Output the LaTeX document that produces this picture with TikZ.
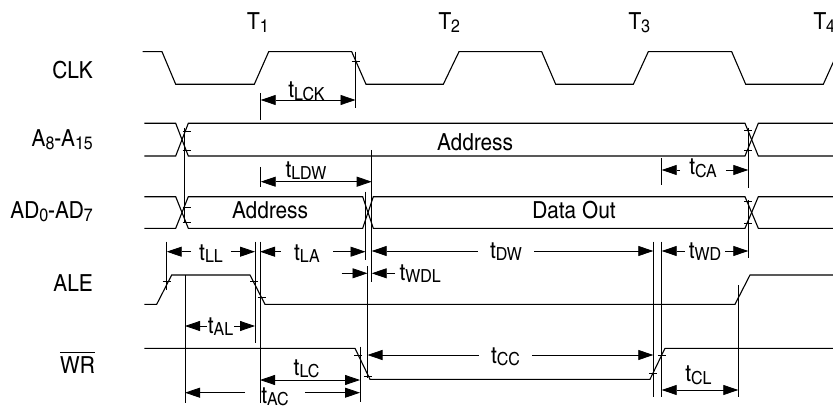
\documentclass[tikz,border=0pt]{standalone}
\usepackage{fontspec}
\setmainfont{TeX Gyre Heros Cn}[FakeStretch=1.08]
\usetikzlibrary{arrows.meta,calc}
\newcommand{\tsb}[2]{#1\raisebox{-2.5pt}{\fontsize{18}{18}\selectfont #2}}
\begin{document}
\begin{tikzpicture}[x=1pt,y=-1pt,
 sig/.style={line width=1.1pt},
 guide/.style={line width=0.8pt},
 tk/.style={line width=0.8pt},
 arr/.style={line width=0.8pt,-{Triangle[length=15pt,width=10pt]}},
 darr/.style={line width=0.8pt,{Triangle[length=15pt,width=10pt]}-{Triangle[length=15pt,width=10pt]}},
 sl/.style={font=\fontsize{23.5}{23.5}\selectfont, inner sep=0pt, anchor=base east},
 tl/.style={font=\fontsize{23.5}{23.5}\selectfont, inner ysep=0pt, inner xsep=8pt, anchor=base},
]
\path[use as bounding box, fill=white] (0,0) rectangle (833,409);

% ---------- signal names ----------
\node[sl] (clk) at (93,78.3) {CLK};
\node[sl] (a8) at (93,146.7) {\tsb{A}{8}-\tsb{A}{15}};
\node[sl] (ad) at (93,218.5) {\tsb{AD}{0}-\tsb{AD}{7}};
\node[sl] (ale) at (93,291.7) {ALE};
\node[sl] (wr) at (95,373) {WR};
\draw[line width=0.9pt] ([yshift=3.5pt]wr.north west) -- ([yshift=3.5pt]wr.north east);

% ---------- T labels ----------
\node[sl, anchor=base west] (T1) at (247,30) {\tsb{T}{1}};
\node[sl, anchor=base west] (T2) at (438.3,30) {\tsb{T}{2}};
\node[sl, anchor=base west] (T3) at (628.3,30) {\tsb{T}{3}};
\node[sl, anchor=base west] (T4) at (813.3,30) {\tsb{T}{4}};

% ---------- waveforms ----------
\draw[sig] (142.7,51.7) -- (162,51.7) -- (175.7,84.3) -- (254.3,84.3) -- (268.7,51.7) -- (351.7,51.7) -- (366,84.3) -- (443.3,84.3) -- (459,51.7) -- (541.7,51.7) -- (555.7,84.3) -- (633.3,84.3) -- (648.3,51.7) -- (731.7,51.7) -- (745.7,84.3) -- (823.3,84.3) -- (838,51.7);

\draw[sig] (144.3,123.3) -- (175.7,123.3) -- (188.3,156) -- (745,156) -- (758.3,123.3) -- (840,123.3);
\draw[sig] (144.3,156) -- (175.7,156) -- (188.3,123.3) -- (745,123.3) -- (758.3,156) -- (840,156);
\node[sl, anchor=base] (addrA) at (475,150) {Address};

\draw[sig] (144.3,196.7) -- (175.7,196.7) -- (188.3,228.3) -- (362.7,228.3) -- (373.3,196.7) -- (745,196.7) -- (758.3,228.3) -- (840,228.3);
\draw[sig] (144.3,228.3) -- (175.7,228.3) -- (188.3,196.7) -- (362.7,196.7) -- (373.3,228.3) -- (745,228.3) -- (758.3,196.7) -- (840,196.7);
\node[sl, anchor=base] (addrD) at (270,218.3) {Address};
\node[sl, anchor=base] (dout) at (574,218.3) {Data Out};

\draw[sig] (144.3,304.3) -- (156.7,304.3) -- (171.7,275) -- (250,275) -- (265,304.3) -- (735,304.3) -- (750,275) -- (840,275);
\draw[sig] (144.3,348.3) -- (355,348.3) -- (370,379.3) -- (650,379.3) -- (665,348.3) -- (840,348.3);

% ---------- ticks ----------
\foreach \x/\y in {355.5/61, 186.5/131.7, 186.5/150, 186.5/207.3, 186.5/222.7,
  748/130.7, 748/150.7, 748/201.7, 748/223, 166.7/281, 254/281, 261.5/297.3,
  358.2/355, 368.4/376, 652.9/373.3, 661.8/355}
  \draw[tk] (\x-4,\y) -- (\x+4,\y);

% ---------- guide lines ----------
\draw[guide] (260.7,93) -- (260.7,120);
\draw[guide] (355.5,51.7) -- (355.5,108);
\draw[guide] (260.7,167) -- (260.7,187);
\draw[guide] (371.7,150) -- (371.7,282);
\draw[guide] (184,128) -- (184,222);
\draw[guide] (661.7,158) -- (661.7,185);
\draw[guide] (748.3,128) -- (748.3,188);
\draw[guide] (748.3,200) -- (748.3,258);
\draw[guide] (166.7,241.7) -- (166.7,290);
\draw[guide] (255,241.7) -- (255,343.3);
\draw[guide] (260,241.7) -- (260,403);
\draw[guide] (365.5,191.7) -- (365.5,260);
\draw[guide] (367.5,266) -- (367.5,378);
\draw[guide] (185,275) -- (185,403);
\draw[guide] (360,346.7) -- (360,401.7);
\draw[guide] (653.3,241.7) -- (653.3,396.7);
\draw[guide] (661.7,241.7) -- (661.7,396.7);
\draw[guide] (738.3,285) -- (738.3,396.7);

% ---------- dimensions ----------
% tLCK
\coordinate (LCKa) at (260.7,100); \coordinate (LCKb) at (355.5,100);
\node[tl] (tLCK) at (306.5,98) {\tsb{t}{LCK}};
\draw[darr] (LCKa) -- (LCKb);
% tLDW
\coordinate (LDWa) at (260.7,181.7); \coordinate (LDWb) at (371.7,181.7);
\node[tl] (tLDW) at (306,177.3) {\tsb{t}{LDW}};
\draw[darr] (LDWa) -- (LDWb);
% tCA
\coordinate (CAa) at (661.7,170); \coordinate (CAb) at (748.3,170);
\node[tl, inner xsep=9pt] (tCA) at (703,175) {\tsb{t}{CA}};
\draw[arr] (tCA.west |- CAa) -- (CAa);
\draw[arr] (tCA.east |- CAb) -- (CAb);
% tLL
\coordinate (LLa) at (166.7,251.7); \coordinate (LLb) at (255,251.7);
\node[tl, inner xsep=8pt] (tLL) at (211,260) {\tsb{t}{LL}};
\draw[arr] (tLL.west |- LLa) -- (LLa);
\draw[arr] (tLL.east |- LLb) -- (LLb);
% tLA
\coordinate (LAa) at (260,251.7); \coordinate (LAb) at (365.5,251.7);
\node[tl, inner xsep=13pt] (tLA) at (307,260) {\tsb{t}{LA}};
\draw[arr] (tLA.west |- LAa) -- (LAa);
\draw[arr] (tLA.east |- LAb) -- (LAb);
% tDW
\coordinate (DWa) at (371.7,251); \coordinate (DWb) at (653.3,251);
\node[tl, inner xsep=12pt] (tDW) at (506,258) {\tsb{t}{DW}};
\draw[arr] (tDW.west |- DWa) -- (DWa);
\draw[arr] (tDW.east |- DWb) -- (DWb);
% tWD
\coordinate (WDa) at (661.7,251); \coordinate (WDb) at (748.3,251);
\node[tl, inner xsep=4pt] (tWD) at (705,258) {\tsb{t}{WD}};
\draw[arr] (tWD.west |- WDa) -- (WDa);
\draw[arr] (tWD.east |- WDb) -- (WDb);
% tWDL
\coordinate (WDLa) at (367.5,273.3); \coordinate (WDLb) at (371.7,273.3);
\coordinate (WDLs) at (341.7,273.3); \coordinate (WDLe) at (395,273.3);
\node[tl, inner xsep=0pt, anchor=base west] (tWDL) at (399.3,280) {\tsb{t}{WDL}};
\draw[arr] (WDLs) -- (WDLa);
\draw[arr] (WDLe) -- (WDLb);
% tAL
\coordinate (ALa) at (185,326); \coordinate (ALb) at (255,326);
\node[tl, inner xsep=1pt] (tAL) at (220.5,333) {\tsb{t}{AL}};
\draw[arr] (tAL.west |- ALa) -- (ALa);
\draw[arr] (tAL.east |- ALb) -- (ALb);
% tCC
\coordinate (CCa) at (367.5,355); \coordinate (CCb) at (653.3,355);
\node[tl, inner xsep=12pt] (tCC) at (505.5,363) {\tsb{t}{CC}};
\draw[arr] (tCC.west |- CCa) -- (CCa);
\draw[arr] (tCC.east |- CCb) -- (CCb);
% tLC
\coordinate (LCa) at (260,380); \coordinate (LCb) at (360,380);
\node[tl] (tLC) at (306.5,375) {\tsb{t}{LC}};
\draw[darr] (LCa) -- (LCb);
% tAC
\coordinate (ACa) at (185,392.7); \coordinate (ACb) at (360,392.7);
\node[tl, inner xsep=16pt] (tAC) at (275,403) {\tsb{t}{AC}};
\draw[arr] (tAC.west |- ACa) -- (ACa);
\draw[arr] (tAC.east |- ACb) -- (ACb);
% tCL
\coordinate (CLa) at (661.7,390); \coordinate (CLb) at (738.3,390);
\node[tl] (tCL) at (698.5,381.5) {\tsb{t}{CL}};
\draw[darr] (CLa) -- (CLb);
\end{tikzpicture}
\end{document}
